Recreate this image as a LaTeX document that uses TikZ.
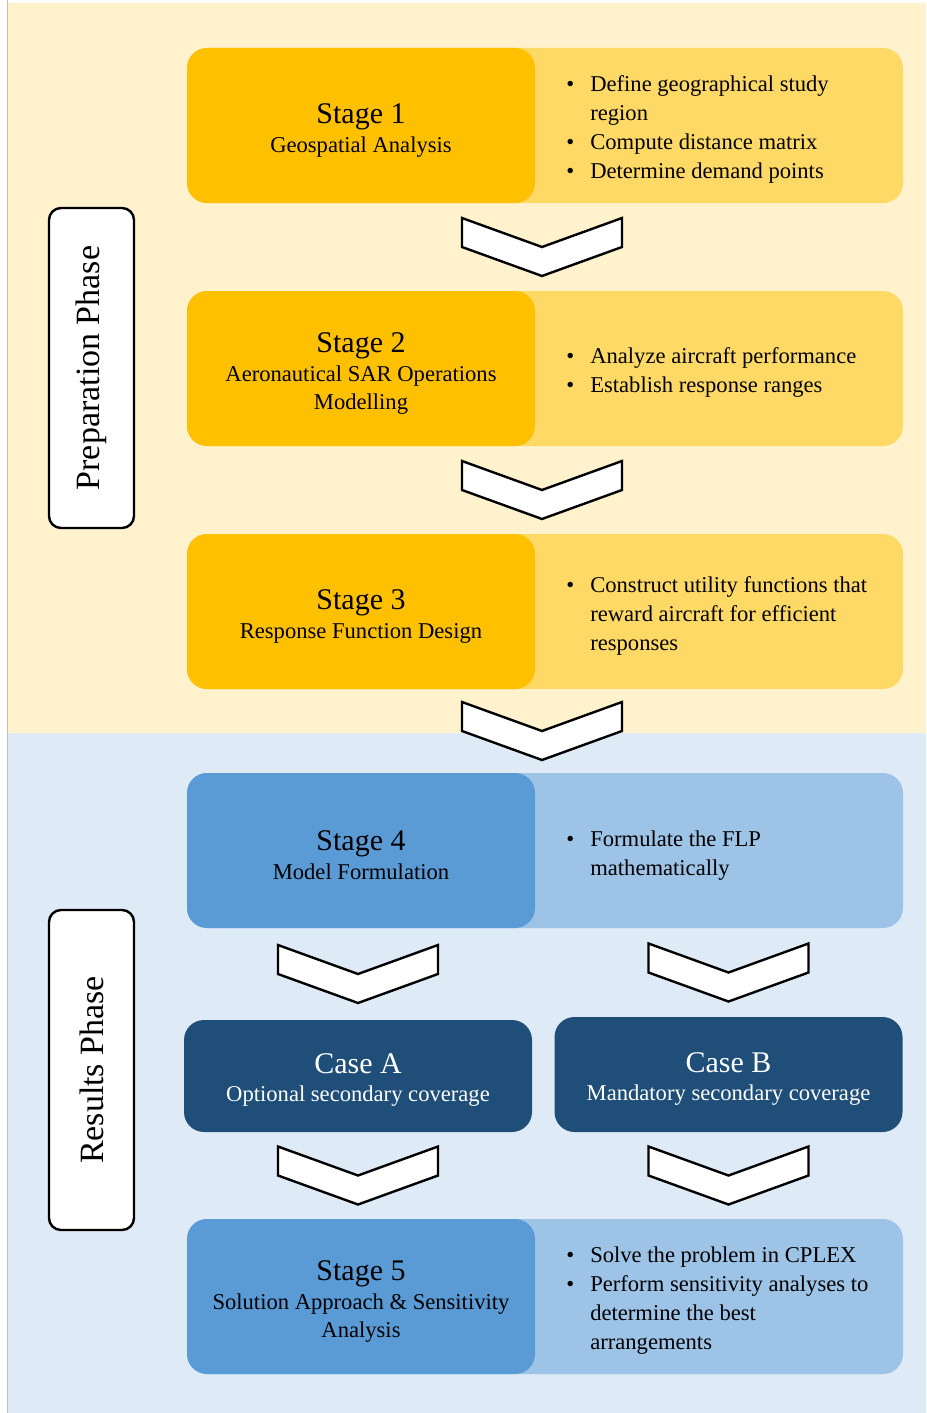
\documentclass[tikz,border=0pt]{standalone}
\usepackage{fontspec}
\setmainfont{Liberation Serif}
\usetikzlibrary{positioning,calc}
\definecolor{prepbg}{RGB}{255,242,204}
\definecolor{resbg}{RGB}{222,235,247}
\definecolor{gold}{RGB}{255,192,0}
\definecolor{lightgold}{RGB}{255,217,102}
\definecolor{midblue}{RGB}{91,155,213}
\definecolor{lightblue}{RGB}{157,195,230}
\definecolor{navy}{RGB}{31,78,121}
\newcommand{\stagetitle}[1]{{\fontsize{15}{17}\selectfont #1}}
\newcommand{\bulletlist}[1]{\begin{tabular}{@{}l@{\hspace{8pt}}l@{}}#1\end{tabular}}

\begin{document}
\begin{tikzpicture}[x=0.5pt,y=-0.5pt,
  row/.style={rounded corners=10pt, minimum width=358pt, minimum height=77.5pt, inner sep=0pt},
  head/.style={rounded corners=10pt, minimum width=174pt, minimum height=77.5pt, inner sep=0pt,
    text width=172pt, align=flush center, font=\fontsize{11.3}{14}\selectfont},
  items/.style={anchor=west, inner sep=0pt, font=\fontsize{11.3}{14.5}\selectfont},
  casebox/.style={rounded corners=10pt, minimum width=174pt, minimum height=56pt, inner sep=0pt,
    fill=navy, text=white, text width=172pt, align=flush center, font=\fontsize{11.3}{14}\selectfont},
  phase/.style={draw, line width=1.2pt, fill=white, rounded corners=6pt, rotate=90,
    minimum width=160pt, minimum height=42.5pt, font=\fontsize{17}{19}\selectfont},
  chevron/.pic={\draw[line width=1.2pt, fill=white, line join=miter]
    (-80,-29) -- (0,0) -- (80,-29) -- (80,0) -- (0,29) -- (-80,0) -- cycle;}]
\useasboundingbox (0,0) rectangle (926,1413);
\fill[prepbg] (8,3) rectangle (926,733);
\fill[resbg] (8,733) rectangle (926,1413);
\draw[gray!50, line width=0.5pt] (7,0) -- (7,1413);

\node[row, fill=lightgold] (s1) at (545,125.5) {};
\node[head, fill=gold, anchor=west] (s1h) at (s1.west) {};
\node[head, anchor=center] (s1c) at ($(s1h)+(0,5)$) {\stagetitle{Stage 1}\\[0.5pt]Geospatial Analysis};
\node[items] (s1t) at (566,129.5) {\bulletlist{\textbullet & Define geographical study\\ & region\\ \textbullet & Compute distance matrix\\ \textbullet & Determine demand points}};

\node[row, fill=lightgold] (s2) at (545,368.5) {};
\node[head, fill=gold, anchor=west] (s2h) at (s2.west) {};
\node[head, anchor=center] (s2c) at ($(s2h)+(0,5)$) {\stagetitle{Stage 2}\\[0.5pt]Aeronautical SAR Operations\\Modelling};
\node[items] (s2t) at (566,372.5) {\bulletlist{\textbullet & Analyze aircraft performance\\ \textbullet & Establish response ranges}};

\node[row, fill=lightgold] (s3) at (545,611.5) {};
\node[head, fill=gold, anchor=west] (s3h) at (s3.west) {};
\node[head, anchor=center] (s3c) at ($(s3h)+(0,5)$) {\stagetitle{Stage 3}\\[0.5pt]Response Function Design};
\node[items] (s3t) at (566,615.5) {\bulletlist{\textbullet & Construct utility functions that\\ & reward aircraft for efficient\\ & responses}};

\node[row, fill=lightblue] (s4) at (545,850.5) {};
\node[head, fill=midblue, anchor=west] (s4h) at (s4.west) {};
\node[head, anchor=center] (s4c) at ($(s4h)+(0,5)$) {\stagetitle{Stage 4}\\[0.5pt]Model Formulation};
\node[items] (s4t) at (566,855.5) {\bulletlist{\textbullet & Formulate the FLP\\ & mathematically}};

\node[casebox] (ca) at (358,1076) {};
\node[casebox, fill=none] (cat) at ($(ca)+(0,4)$) {\stagetitle{Case A}\\Optional secondary coverage};
\node[casebox, minimum height=57.5pt] (cb) at (728.5,1074.5) {};
\node[casebox, fill=none] (cbt) at ($(cb)+(0,4)$) {\stagetitle{Case B}\\Mandatory secondary coverage};

\node[row, fill=lightblue] (s5) at (545,1296.5) {};
\node[head, fill=midblue, anchor=west] (s5h) at (s5.west) {};
\node[head, anchor=center] (s5c) at ($(s5h)+(0,5)$) {\stagetitle{Stage 5}\\[0.5pt]Solution Approach \& Sensitivity\\Analysis};
\node[items] (s5t) at (566,1300.5) {\bulletlist{\textbullet & Solve the problem in CPLEX\\ \textbullet & Perform sensitivity analyses to\\ & determine the best\\ & arrangements}};

\node[phase] (prep) at (91.5,368) {Preparation Phase};
\node[phase] (res) at (91.5,1070) {Results Phase};

\pic at ($(s1.south)!0.5!(s2.north)+(-3,0)$) {chevron};
\pic at ($(s2.south)!0.5!(s3.north)+(-3,0)$) {chevron};
\pic at ($(s3.south)!0.5!(s4.north)+(-3,0)$) {chevron};
\pic at ($(s4.south -| ca)!0.5!(ca.north)$) {chevron};
\pic at ($(s4.south -| cb)!0.5!(cb.north)$) {chevron};
\pic at ($(ca.south)!0.5!(s5.north -| ca)$) {chevron};
\pic at ($(cb.south)!0.5!(s5.north -| cb)$) {chevron};
\end{tikzpicture}
\end{document}
